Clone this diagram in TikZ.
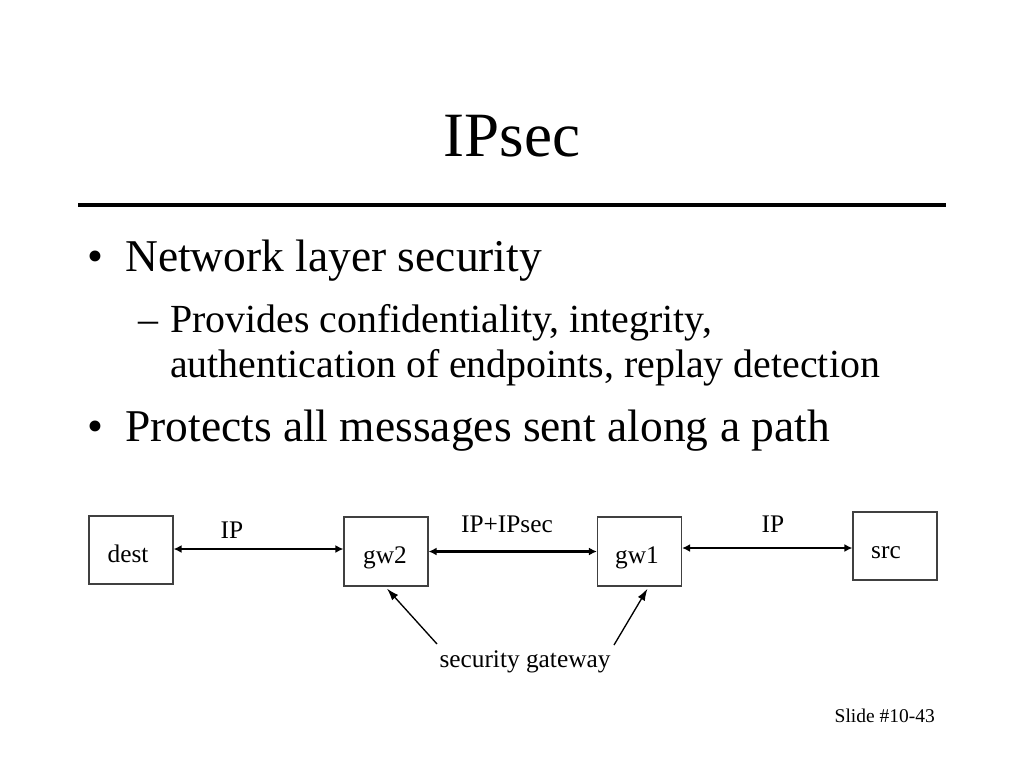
\documentclass[tikz,border=0pt]{standalone}
\usepackage{fontspec}
\setmainfont{Liberation Serif}
\usetikzlibrary{arrows.meta,calc}
\tikzset{
  boxnode/.style={draw=black!75,line width=0.9pt,minimum width=63pt,minimum height=51pt,inner sep=0pt},
  lbl/.style={font=\fontsize{19}{22}\selectfont,inner sep=0pt,anchor=base},
  link/.style={line width=1.6pt,{Latex[length=6pt,width=6pt]}-{Latex[length=6pt,width=6pt]}},
  pointer/.style={line width=1pt,-{Latex[length=9pt,width=6pt]}},
  txt/.style={inner sep=0pt,anchor=base west}
}
\begin{document}
\begin{tikzpicture}[x=0.75pt,y=-0.75pt]
\useasboundingbox (0,0) rectangle (1024,768);
\fill[white] (0,0) rectangle (1024,768);
% title
\node[inner sep=0pt,anchor=base,font=\fontsize{47.3}{50}\selectfont] (title) at (512,156) {IPsec};
\draw[line width=3.6pt] (78,205) coordinate (r1) -- (946,205) coordinate (r2);
% bullets
\node[txt,anchor=base,font=\fontsize{34.1}{40}\selectfont] (b1) at (95,271) {•};
\node[txt,font=\fontsize{34.1}{40}\selectfont] (t1) at (125,271) {Network layer security};
\node[txt,anchor=base,font=\fontsize{29.9}{35}\selectfont] (d1) at (148,332) {–};
\node[txt,font=\fontsize{29.9}{35}\selectfont] (t2) at (170,332) {Provides confidentiality, integrity,};
\node[txt,font=\fontsize{29.9}{35}\selectfont] (t3) at (170,377) {authentication of endpoints, replay detection};
\node[txt,anchor=base,font=\fontsize{34.1}{40}\selectfont] (b2) at (95,441) {•};
\node[txt,font=\fontsize{34.1}{40}\selectfont] (t4) at (125,441) {Protects all messages sent along a path};
% boxes
\node[boxnode] (dest) at (131,550) {};
\node[boxnode,minimum height=51.75pt] (gw2) at (386,551.5) {};
\node[boxnode,minimum height=51.75pt] (gw1) at (639.5,551.5) {};
\node[boxnode] (src) at (895,546) {};
\node[lbl] (destt) at (128,562) {dest};
\node[lbl] (gw2t) at (385,563) {gw2};
\node[lbl] (gw1t) at (637,563) {gw1};
\node[lbl] (srct) at (886,558) {src};
% links
\draw[link] ([yshift=0.75pt]dest.east) -- ([yshift=0.75pt]dest.east -| gw2.west);
\draw[link] (gw2.east) -- (gw1.west);
\draw[link] ([yshift=-1.5pt]src.west -| gw1.east) -- ([yshift=-1.5pt]src.west);
\node[lbl] (ip1) at (232,538) {IP};
\node[lbl] (ipsec) at (507,532) {IP+IPsec};
\node[lbl] (ip2) at (773,532) {IP};
% security gateway
\node[lbl] (sg) at (525,667) {security gateway};
\coordinate (sgL) at (437,644);
\coordinate (sgR) at (614,645);
\draw[pointer] (sgL) -- ($(gw2.south)+(1,2)$);
\draw[pointer] (sgR) -- ($(gw1.south)+(8,2)$);
% footer
\node[lbl,anchor=base east,font=\fontsize{14.6}{17}\selectfont] (slide) at (935,722) {Slide \#10-43};
\end{tikzpicture}
\end{document}
